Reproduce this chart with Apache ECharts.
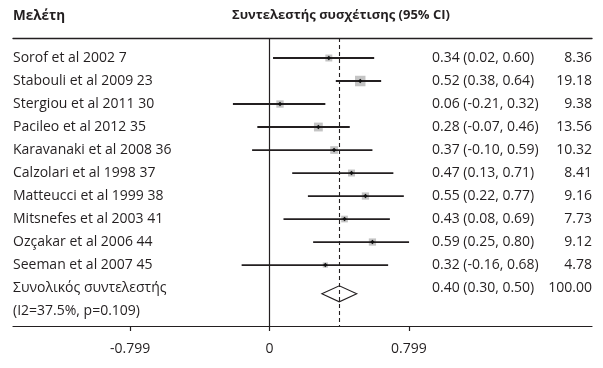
<!DOCTYPE html>
<html>
<head>
<meta charset="utf-8">
<script src="https://cdn.jsdelivr.net/npm/echarts@6/dist/echarts.min.js"></script>
<style>
  html, body { margin: 0; padding: 0; background: #fff; }
  #forest { width: 603px; height: 368px; }
</style>
</head>
<body>
<div id="forest"></div>
<script>
var studies = ['Sorof et al 2002 7', 'Stabouli et al 2009 23', 'Stergiou et al 2011 30', 'Pacileo et al 2012 35',
  'Karavanaki et al 2008 36', 'Calzolari et al 1998 37', 'Matteucci et al 1999 38', 'Mitsnefes et al 2003 41',
  'Ozçakar et al 2006 44', 'Seeman et al 2007 45'];
var es = [0.34, 0.52, 0.06, 0.28, 0.37, 0.47, 0.55, 0.43, 0.59, 0.32];
var lo = [0.02, 0.38, -0.21, -0.07, -0.10, 0.13, 0.22, 0.08, 0.25, -0.16];
var hi = [0.60, 0.64, 0.32, 0.46, 0.59, 0.71, 0.77, 0.69, 0.80, 0.68];
var weights = ['8.36', '19.18', '9.38', '13.56', '10.32', '8.41', '9.16', '7.73', '9.12', '4.78'];
var overall = { es: 0.40, lo: 0.30, hi: 0.50, w: '100.00' };
var overallLabel = ['Συνολικός συντελεστής', '(I2=37.5%, p=0.109)'];
var tickValues = [-0.799, 0, 0.799];

var fmt = function (v) { return v.toFixed(2); };
var txtColor = '#231f20';
var font = '"Open Sans", sans-serif';
var fs = 14;

var rows = studies.map(function (s, i) {
  return [i, es[i], lo[i], hi[i], parseFloat(weights[i])];
});

function textEl(x, y, str, align) {
  return {
    type: 'text',
    style: {
      x: x, y: y, text: str, fill: txtColor, font: fs + 'px ' + font,
      textAlign: align || 'left', textVerticalAlign: 'middle'
    }
  };
}

var chart = echarts.init(document.getElementById('forest'));
chart.setOption({
  animation: false,
  grid: { left: 13, right: 11, top: 38, bottom: 42 },
  xAxis: [{
    type: 'value', min: -1.471, max: 1.849, position: 'bottom',
    splitLine: { show: false },
    axisLine: { onZero: false, lineStyle: { color: '#231f20', width: 1.2 } },
    axisTick: { customValues: tickValues, length: 5, lineStyle: { color: '#231f20', width: 1.2 } },
    axisLabel: {
      customValues: tickValues, color: txtColor, fontSize: fs, fontFamily: font, margin: 16,
      formatter: function (v) { return String(v); }
    }
  }, {
    type: 'value', min: -1.471, max: 1.849, position: 'top',
    splitLine: { show: false }, axisTick: { show: false }, axisLabel: { show: false },
    axisLine: { show: true, onZero: false, lineStyle: { color: '#231f20', width: 1.4 } }
  }],
  yAxis: { type: 'value', inverse: true, min: -0.87, max: 11.65, show: false },
  graphic: [
    { type: 'text', left: 13, top: 9, style: { text: 'Μελέτη', fill: txtColor, font: 'bold 13.5px ' + font } },
    { type: 'text', left: 232, top: 9, style: { text: 'Συντελεστής συσχέτισης (95% CI)', fill: txtColor, font: 'bold 13px ' + font } }
  ],
  series: [{
    type: 'custom',
    data: rows,
    renderItem: function (params, api) {
      var i = api.value(0);
      var c = api.coord([api.value(1), i]);
      var a = api.coord([api.value(2), i]);
      var b = api.coord([api.value(3), i]);
      var side = 2.4 * Math.sqrt(api.value(4));
      return {
        type: 'group',
        children: [
          { type: 'rect', shape: { x: c[0] - side / 2, y: c[1] - side / 2, width: side, height: side }, style: { fill: '#c4c4c4' } },
          { type: 'line', shape: { x1: a[0], y1: a[1], x2: b[0], y2: b[1] }, style: { stroke: '#231f20', lineWidth: 1.8 } },
          { type: 'polygon', shape: { points: [[c[0], c[1] - 2.2], [c[0] + 2.2, c[1]], [c[0], c[1] + 2.2], [c[0] - 2.2, c[1]]] }, style: { fill: '#111' } },
          textEl(13, c[1], studies[i]),
          textEl(432, c[1], fmt(es[i]) + ' (' + fmt(lo[i]) + ', ' + fmt(hi[i]) + ')'),
          textEl(592, c[1], weights[i], 'right')
        ]
      };
    }
  }, {
    type: 'custom',
    data: [[10, overall.es, overall.lo, overall.hi]],
    renderItem: function (params, api) {
      var i = api.value(0);
      var c = api.coord([api.value(1), i + 0.25]);
      var a = api.coord([api.value(2), i + 0.25]);
      var b = api.coord([api.value(3), i + 0.25]);
      var t = api.coord([0, i]);
      var t2 = api.coord([0, i + 1]);
      return {
        type: 'group',
        children: [
          { type: 'polygon', shape: { points: [[a[0], a[1]], [c[0], c[1] - 8], [b[0], b[1]], [c[0], c[1] + 8]] },
            style: { fill: '#fff', stroke: '#231f20', lineWidth: 1.1 } },
          textEl(13, t[1], overallLabel[0]),
          textEl(13, t2[1], overallLabel[1]),
          textEl(432, t[1], fmt(overall.es) + ' (' + fmt(overall.lo) + ', ' + fmt(overall.hi) + ')'),
          textEl(592, t[1], overall.w, 'right')
        ]
      };
    },
    markLine: {
      silent: true, symbol: 'none', label: { show: false },
      data: [
        { xAxis: 0, lineStyle: { color: '#231f20', type: 'solid', width: 1.2 } },
        { xAxis: overall.es, lineStyle: { color: '#231f20', type: [4, 3], width: 1.1 } }
      ]
    }
  }]
});
</script>
</body>
</html>
